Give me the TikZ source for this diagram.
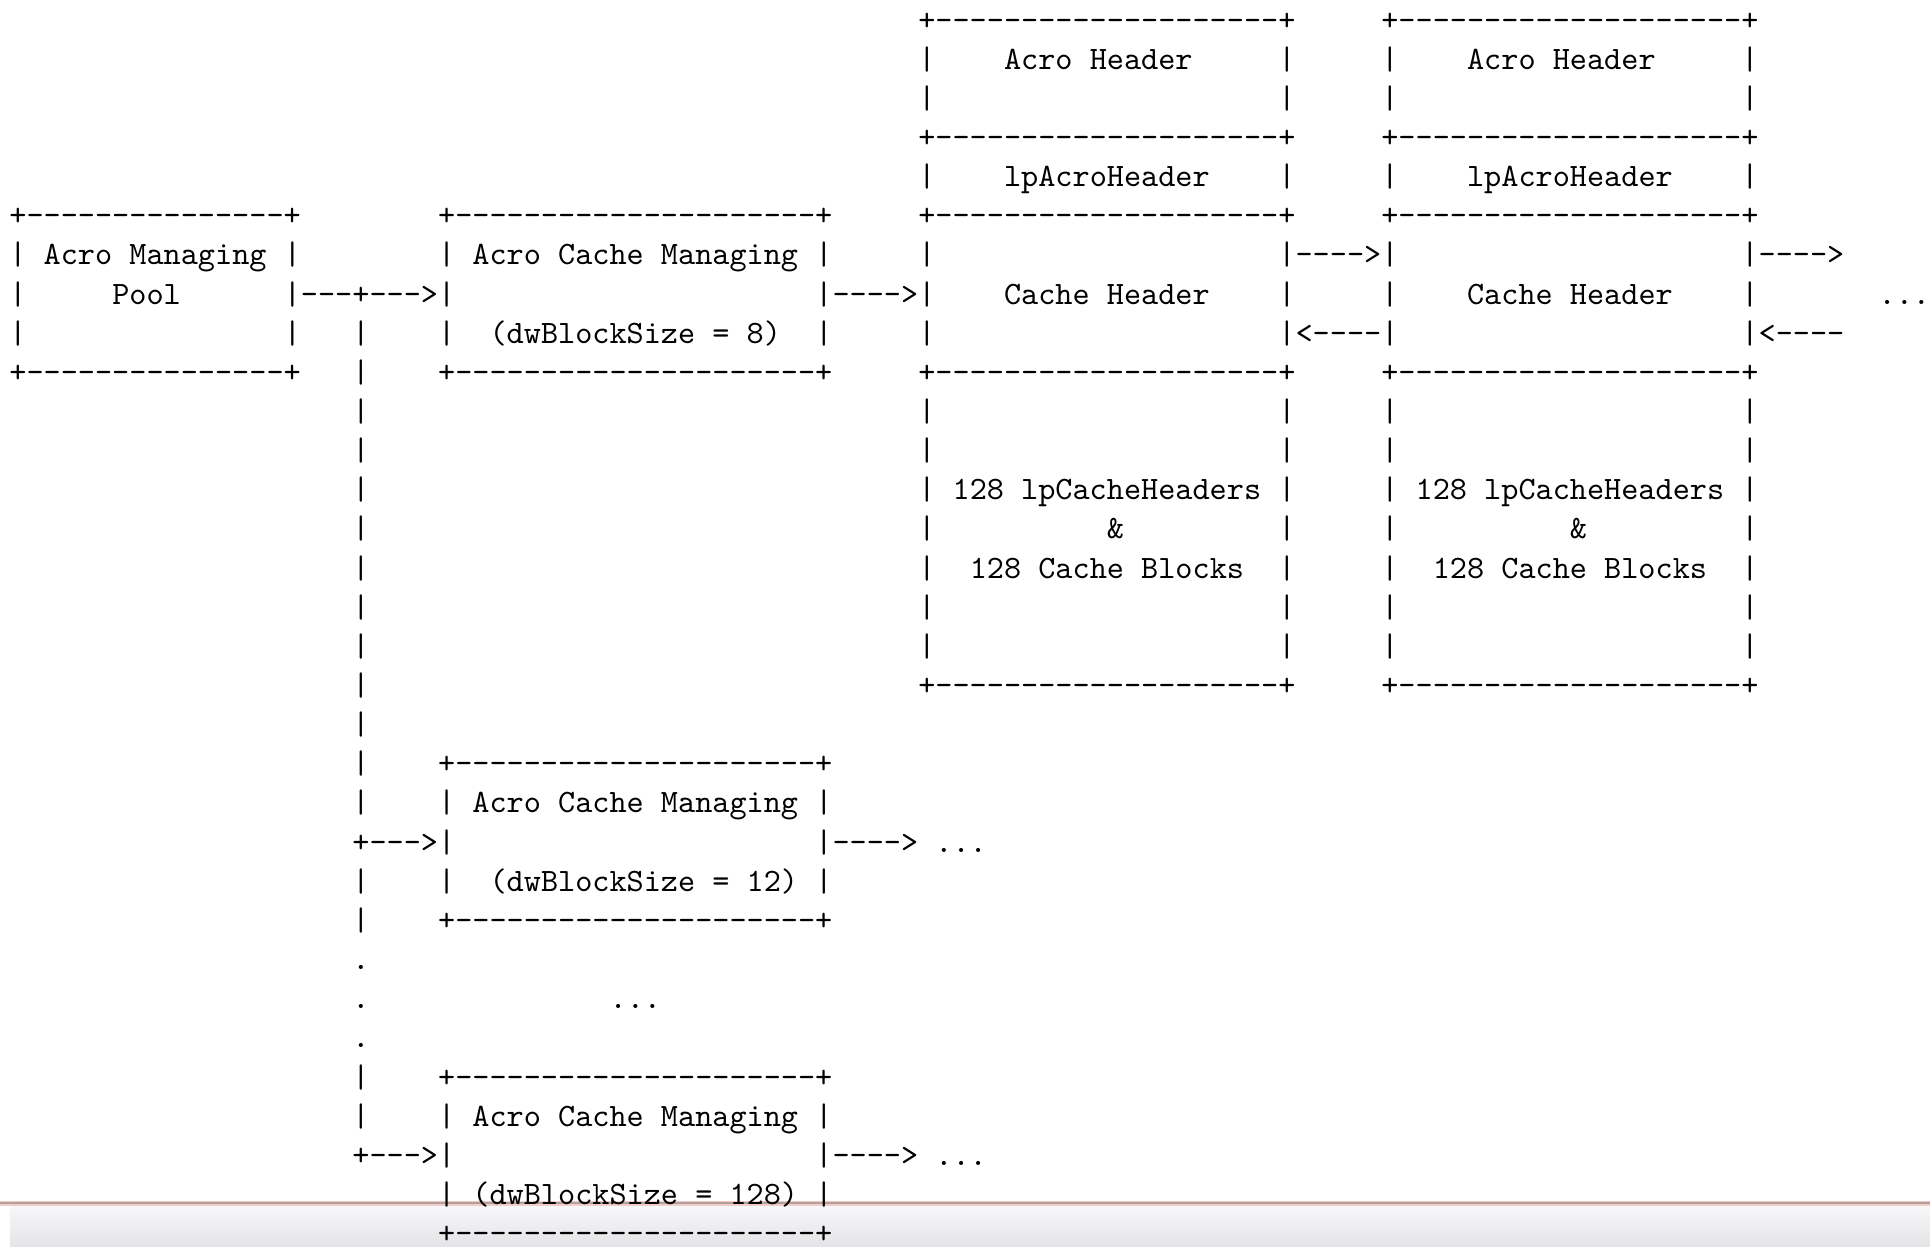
\documentclass[tikz,border=0pt]{standalone}
\usepackage{fontspec}
\setmonofont{lmmono10-regular.otf}
\usepackage{tikz}

\definecolor{bandtop}{RGB}{248,248,250}
\definecolor{bandbot}{RGB}{228,228,231}
\definecolor{edgepink}{RGB}{240,205,200}
\definecolor{edgeline}{RGB}{180,160,155}

\tikzset{
  ascii/.style={anchor=base west, inner sep=0pt, outer sep=0pt,
    font=\ttfamily\fontsize{9.29}{11}\selectfont\frenchspacing},
}

\begin{document}
\begin{tikzpicture}

% page, and the edge of the window at the bottom
\useasboundingbox (0,0) rectangle (19.3,-12.47);
\shade[top color=bandtop, bottom color=bandbot] (0.1,-12.04) rectangle (19.3,-12.47);
\draw[line width=0.05cm, edgepink] (0,-12.03) -- (19.3,-12.03);
\draw[line width=0.02cm, edgeline] (0,-12.03) -- (19.3,-12.03);

% one unit = one character cell of the listing
\begin{scope}[shift={(0.094cm,-0.30cm)}, x=0.1715cm, y=-0.3915cm]

    % --- Acro Managing Pool ---
    \foreach \r in {5,9} \node[ascii] (pool\r) at (0,\r) {+---------------+};
    \foreach \r in {6,7,8} {
        \node[ascii] (poolL\r) at (0,\r) {|};
        \node[ascii] (poolR\r) at (16,\r) {|};
    }
    \node[ascii] (poolName) at (2,6) {Acro Managing};
    \node[ascii] (poolSub) at (6,7) {Pool};
    \node[ascii] (poolOut) at (17,7) {---+--->};

    % --- branch line down to the managers ---
    \foreach \r in {8,...,20} \node[ascii] (trunk\r) at (20,\r) {|};
    \foreach \r in {22,23,27,28} \node[ascii] (trunk\r) at (20,\r) {|};
    \foreach \r in {24,25,26} \node[ascii] (gap\r) at (20,\r) {.};
    \node[ascii] (gapDots) at (35,25) {...};
    \node[ascii] (branch21) at (20,21) {+--->};
    \node[ascii] (branch29) at (20,29) {+--->};

    % --- Acro Cache Managing boxes ---
    \foreach \t/\sz/\c in {5/8/28, 19/12/28, 27/128/27} {
        \node[ascii] (mgrTop\t) at (25,\t) {+---------------------+};
        \node[ascii] (mgrBot\t) at (25,\t+4) {+---------------------+};
        \foreach \r in {1,2,3} {
            \node[ascii] (mgrL\t-\r) at (25,\t+\r) {|};
            \node[ascii] (mgrR\t-\r) at (47,\t+\r) {|};
        }
        \node[ascii] (mgrName\t) at (27,\t+1) {Acro Cache Managing};
        \node[ascii] (mgrSize\t) at (\c,\t+3) {(dwBlockSize = \sz)};
    }
    \node[ascii] (mgrOut5) at (48,7) {---->};
    \node[ascii] (mgrOut19) at (48,21) {----> ...};
    \node[ascii] (mgrOut27) at (48,29) {----> ...};

    % --- chain of Acro Header blocks ---
    \foreach \x in {53,80} {
        \foreach \r in {0,3,5,9,17} \node[ascii] (blkRule\x-\r) at (\x,\r) {+--------------------+};
        \foreach \r in {1,2,4,6,7,8,10,11,12,13,14,15,16} {
            \node[ascii] (blkL\x-\r) at (\x,\r) {|};
            \node[ascii] (blkR\x-\r) at (\x+21,\r) {|};
        }
        \node[ascii] (acroHdr\x) at (\x+5,1) {Acro Header};
        \node[ascii] (lpAcro\x) at (\x+5,4) {lpAcroHeader};
        \node[ascii] (cacheHdr\x) at (\x+5,7) {Cache Header};
        \node[ascii] (lpCache\x) at (\x+2,12) {128 lpCacheHeaders};
        \node[ascii] (amp\x) at (\x+11,13) {\&};
        \node[ascii] (blocks\x) at (\x+3,14) {128 Cache Blocks};
    }

    % links between the blocks
    \node[ascii] (next53) at (75,6) {---->};
    \node[ascii] (prev53) at (75,8) {<----};
    \node[ascii] (next80) at (102,6) {---->};
    \node[ascii] (prev80) at (102,8) {<----};
    \node[ascii] (more80) at (109,7) {...};

\end{scope}
\end{tikzpicture}
\end{document}
